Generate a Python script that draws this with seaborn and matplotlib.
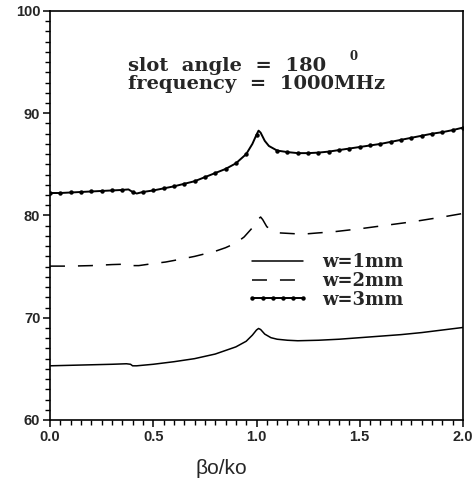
import numpy as np
import pandas as pd
import matplotlib
matplotlib.use("Agg")
import matplotlib.pyplot as plt
import seaborn as sns
from matplotlib.lines import Line2D
from matplotlib.ticker import MultipleLocator

# ---- data ----
x_w1 = [0.00, 0.10, 0.20, 0.30, 0.37, 0.39, 0.40, 0.42, 0.50, 0.60, 0.70, 0.80, 0.90, 0.95,
        0.98, 1.00, 1.01, 1.02, 1.04, 1.07, 1.10, 1.15, 1.20, 1.30, 1.40, 1.50, 1.60, 1.70,
        1.80, 1.90, 2.00]
y_w1 = [65.3, 65.35, 65.4, 65.45, 65.5, 65.45, 65.3, 65.3, 65.45, 65.7, 66.0, 66.45, 67.15, 67.7,
        68.3, 68.8, 68.95, 68.85, 68.4, 68.05, 67.9, 67.8, 67.75, 67.8, 67.9, 68.05, 68.2, 68.35,
        68.55, 68.8, 69.05]

x_w2 = [0.00, 0.10, 0.20, 0.30, 0.38, 0.40, 0.43, 0.50, 0.56, 0.60, 0.70, 0.80, 0.85, 0.90,
        0.94, 0.98, 1.00, 1.02, 1.03, 1.05, 1.08, 1.11, 1.20, 1.24, 1.30, 1.37, 1.50, 1.63,
        1.76, 1.90, 2.00]
y_w2 = [75.05, 75.05, 75.1, 75.2, 75.25, 75.1, 75.1, 75.3, 75.45, 75.6, 76.0, 76.5, 76.85, 77.3,
        77.9, 78.8, 79.5, 79.85, 79.6, 78.9, 78.5, 78.3, 78.2, 78.2, 78.3, 78.4, 78.7, 79.05,
        79.4, 79.85, 80.2]

x_w3 = [0.00, 0.05, 0.10, 0.15, 0.20, 0.25, 0.30, 0.35, 0.38, 0.40, 0.42, 0.45, 0.50, 0.55,
        0.60, 0.65, 0.70, 0.75, 0.80, 0.85, 0.90, 0.95, 0.98, 1.00, 1.01, 1.02, 1.04, 1.06,
        1.10, 1.15, 1.20, 1.25, 1.30, 1.35, 1.40, 1.45, 1.50, 1.55, 1.60, 1.65, 1.70, 1.75,
        1.80, 1.85, 1.90, 1.95, 2.00]
y_w3 = [82.2, 82.2, 82.25, 82.3, 82.35, 82.4, 82.45, 82.5, 82.55, 82.3, 82.15, 82.3, 82.45, 82.65,
        82.85, 83.1, 83.35, 83.75, 84.15, 84.55, 85.1, 86.0, 87.0, 87.9, 88.3, 88.1, 87.3, 86.8,
        86.35, 86.2, 86.1, 86.1, 86.15, 86.25, 86.4, 86.55, 86.7, 86.85, 87.0, 87.2, 87.4, 87.6,
        87.8, 88.0, 88.15, 88.35, 88.6]

labels = ["w=1mm", "w=2mm", "w=3mm"]
annot_line1 = "slot  angle  =  180"
annot_deg = "0"
annot_line2 = "frequency  =  1000MHz"
xlabel = "βo/ko"

# ---- plotting ----
sns.set_style("ticks")
plt.rcParams["font.family"] = ["DejaVu Sans"]

fig = plt.figure(figsize=(4.76, 4.82), dpi=100)
ax = fig.add_axes([50 / 476, 1 - 420 / 482, 413 / 476, 409 / 482])

lw = 1.1
sns.lineplot(x=x_w1, y=y_w1, ax=ax, color="black", lw=lw, sort=False)
sns.lineplot(x=x_w2, y=y_w2, ax=ax, color="black", lw=lw, sort=False,
             linestyle=(0, (9.8, 8.5)))
mark_idx = [i for i, v in enumerate(x_w3) if abs(v * 20 - round(v * 20)) < 1e-6]
sns.lineplot(x=x_w3, y=y_w3, ax=ax, color="black", lw=1.4, sort=False,
             marker="o", markersize=3.2, markeredgewidth=0, markevery=mark_idx)

ax.set_xlim(0, 2.0)
ax.set_ylim(60, 100)
ax.xaxis.set_major_locator(MultipleLocator(0.5))
ax.xaxis.set_minor_locator(MultipleLocator(0.05))
ax.yaxis.set_major_locator(MultipleLocator(10))
ax.yaxis.set_minor_locator(MultipleLocator(1))
ax.tick_params(which="major", direction="out", length=5, width=1.1, color="black",
               labelsize=10.5, pad=2)
ax.tick_params(which="minor", direction="out", length=3.5, width=1.0, color="black")
for lab in ax.get_xticklabels() + ax.get_yticklabels():
    lab.set_fontweight("bold")
    lab.set_family("Liberation Sans")
for sp in ax.spines.values():
    sp.set_visible(True)
    sp.set_linewidth(1.2)
    sp.set_color("black")
ax.set_xlabel("")
ax.set_ylabel("")

fig.text(221 / 476, 1 - 469 / 482, xlabel, ha="center", va="center", fontsize=15,
         family="Liberation Sans")

fig.text(128 / 476, 1 - 71 / 482, annot_line1, fontsize=14, fontweight="bold",
         family="DejaVu Serif", ha="left", va="baseline")
fig.text(349 / 476, 1 - 60 / 482, annot_deg, fontsize=8.5, fontweight="bold",
         family="DejaVu Serif", ha="left", va="baseline")
fig.text(128 / 476, 1 - 89 / 482, annot_line2, fontsize=14, fontweight="bold",
         family="DejaVu Serif", ha="left", va="baseline")

handles = [
    Line2D([], [], color="black", lw=lw),
    Line2D([], [], color="black", lw=lw, linestyle=(0, (9.8, 8.5))),
    Line2D([], [], color="black", lw=1.4, marker="o", markersize=3.2, markeredgewidth=0),
]
leg = ax.legend(handles, labels, loc="upper left", bbox_to_anchor=((247 - 50) / 413, (420 - 253) / 409),
                frameon=False, numpoints=6, handlelength=3.4, handletextpad=0.75,
                labelspacing=0.05, borderpad=0, borderaxespad=0,
                prop={"family": "DejaVu Serif", "weight": "bold", "size": 13})

fig.savefig("out.png", dpi=100)
